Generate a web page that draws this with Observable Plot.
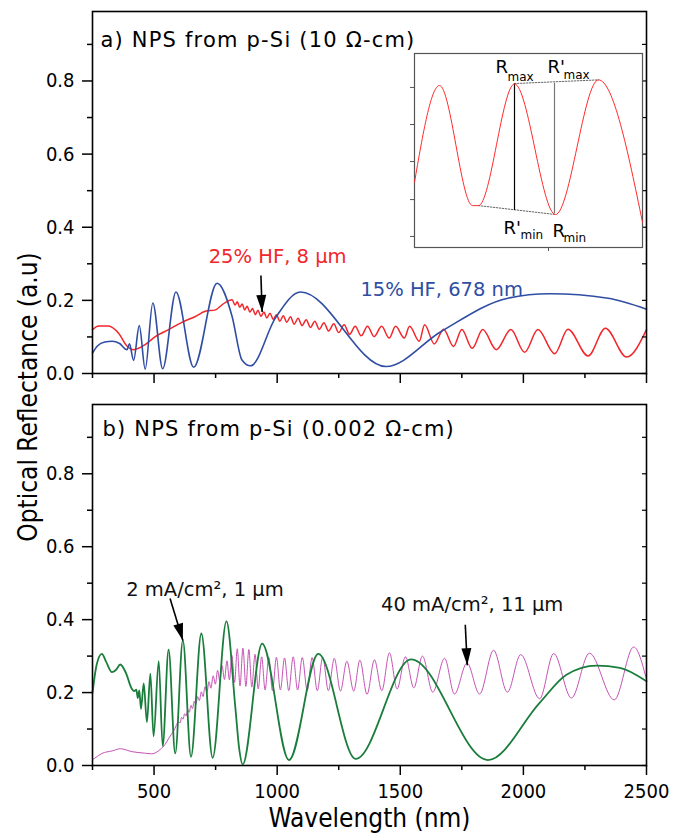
<!DOCTYPE html>
<html><head><meta charset="utf-8">
<script src="https://cdn.jsdelivr.net/npm/d3@7"></script>
<script src="https://cdn.jsdelivr.net/npm/@observablehq/plot@0.6"></script>
<style>
html,body{margin:0;padding:0;background:#fff;}
#wrap{position:relative;width:673px;height:833px;overflow:hidden;}
#ylab{position:absolute;left:28px;top:397px;transform:translate(-50%,-50%) rotate(-90deg);font-family:"DejaVu Sans Condensed","DejaVu Sans";font-stretch:condensed;font-size:26px;font-weight:normal;white-space:nowrap;color:#000;}
</style></head><body><div id="wrap"><div id="ylab">Optical Reflectance (a.u)</div></div>
<script>
// ---------- axes ----------
const xTicksMajor = [500, 1000, 1500, 2000, 2500];
const xTicksMinor = [250, 750, 1250, 1750, 2250];
const yTicksMajor = [0, 0.2, 0.4, 0.6, 0.8];
const yTicksMinor = [0.1, 0.3, 0.5, 0.7, 0.9];
const yTicksRight = [0, 0.1, 0.2, 0.3, 0.4, 0.5, 0.6, 0.7, 0.8, 0.9];
const xLabel = "Wavelength (nm)";
const titleA = "a) NPS from p-Si (10 Ω-cm)";
const titleB = "b) NPS from p-Si (0.002 Ω-cm)";

// ---------- panel a: 15% HF (blue) ----------
const blueX = [250, 270, 300, 330, 360, 390, 400, 417, 440, 464, 495, 535, 589, 661, 756, 817, 857, 892, 993, 1095, 1442, 1666, 1937, 2107, 2344, 2500];
const blueY = [0.056, 0.075, 0.086, 0.088, 0.082, 0.065, 0.081, 0.036, 0.131, 0.012, 0.193, 0.013, 0.223, 0.017, 0.247, 0.156, 0.037, 0.021, 0.152, 0.223, 0.019, 0.115, 0.206, 0.218, 0.206, 0.176];

// ---------- panel a: 25% HF (red) ----------
const redX = [250, 275, 315, 356, 390, 417, 464, 505, 559, 613, 668, 708, 749, 776, 817,
  829, 838, 848, 858, 868, 878, 889, 900, 911, 922, 934, 946, 958, 971, 984, 997, 1011, 1025, 1039, 1054,
  1069, 1085, 1101, 1118, 1135, 1153, 1171, 1190, 1209, 1230, 1250, 1272, 1294, 1317, 1341,
  1367, 1394, 1424, 1455, 1481, 1516, 1538, 1577, 1599, 1638, 1676, 1716, 1750, 1792, 1835, 1890,
  1949, 2005, 2059, 2127, 2181, 2263, 2333, 2419, 2500];
const redY = [0.120, 0.130, 0.130, 0.110, 0.075, 0.065, 0.079, 0.101, 0.120, 0.140, 0.156, 0.170, 0.174, 0.188, 0.202,
  0.187, 0.196, 0.181, 0.190, 0.174, 0.184, 0.168, 0.178, 0.161, 0.173, 0.156, 0.168, 0.152, 0.165, 0.148, 0.161, 0.143, 0.158, 0.140, 0.155,
  0.135, 0.151, 0.131, 0.147, 0.126, 0.143, 0.121, 0.139, 0.116, 0.136, 0.112, 0.133, 0.107, 0.129, 0.103,
  0.129, 0.101, 0.129, 0.097, 0.129, 0.097, 0.129, 0.088, 0.133, 0.081, 0.121, 0.074, 0.120, 0.069, 0.120, 0.065,
  0.120, 0.058, 0.120, 0.054, 0.121, 0.048, 0.124, 0.045, 0.120];

// ---------- panel b: 2 mA/cm2 (green) ----------
const greenX = [250, 267, 288, 305, 329, 345, 363, 385, 410, 420, 428, 434, 440, 447, 458, 471, 485, 498, 519, 535,
  559, 586, 617, 650, 692, 738, 794, 830, 846, 860, 939, 1048, 1167, 1319, 1544, 1856, 2066, 2175, 2297, 2392, 2500];
const greenY = [0.199, 0.277, 0.306, 0.285, 0.256, 0.262, 0.277, 0.255, 0.210, 0.204, 0.208, 0.185, 0.206, 0.155, 0.225, 0.119, 0.252, 0.080, 0.286, 0.053,
  0.318, 0.033, 0.343, 0.024, 0.362, 0.021, 0.395, 0.160, 0.045, 0.003, 0.334, 0.015, 0.306, 0.018, 0.291, 0.015, 0.172, 0.249, 0.274, 0.268, 0.231];

// ---------- panel b: 40 mA/cm2 (magenta) ----------
const magX = [250, 270, 288, 330, 363, 410, 460, 491, 525, 545, 560, 580,
  600, 606, 612, 618, 624, 630, 637, 643, 650, 656, 663, 670, 677, 684, 692, 699, 707, 715, 723, 731,
  740, 749, 758, 767, 776, 786, 796, 806, 816, 827, 838, 849, 861, 873, 885, 897, 910, 923, 937, 951,
  966, 981, 997, 1013, 1030, 1047, 1065, 1083, 1102, 1122, 1142, 1163, 1185, 1208, 1232, 1257,
  1283, 1311, 1336, 1365, 1395, 1425, 1456, 1487, 1521, 1555, 1590, 1632, 1680, 1720, 1771, 1822,
  1879, 1935, 1989, 2066, 2123, 2195, 2268, 2369, 2448, 2500];
const magY = [0.016, 0.025, 0.033, 0.040, 0.046, 0.038, 0.034, 0.032, 0.044, 0.058, 0.075, 0.095,
  0.119, 0.117, 0.132, 0.127, 0.142, 0.136, 0.153, 0.146, 0.165, 0.156, 0.176, 0.167, 0.189, 0.178, 0.202, 0.189, 0.216, 0.201, 0.230, 0.212,
  0.246, 0.223, 0.261, 0.232, 0.274, 0.236, 0.287, 0.235, 0.302, 0.228, 0.320, 0.218, 0.322, 0.217, 0.318, 0.215, 0.305, 0.210, 0.298, 0.207,
  0.296, 0.205, 0.297, 0.207, 0.295, 0.205, 0.298, 0.207, 0.296, 0.206, 0.296, 0.205, 0.297, 0.205, 0.294, 0.204,
  0.286, 0.204, 0.289, 0.195, 0.290, 0.205, 0.309, 0.210, 0.298, 0.213, 0.300, 0.201, 0.294, 0.196, 0.281, 0.196,
  0.316, 0.201, 0.304, 0.183, 0.307, 0.185, 0.308, 0.180, 0.325, 0.236];

// ---------- annotations ----------
const labelsA = ["25% HF, 8 μm", "15% HF, 678 nm"];
const labelsAX = [722, 1338];
const labelsAY = [0.302, 0.211];
const labelsB = ["2 mA/cm², 1 μm", "40 mA/cm², 11 μm"];
const labelsBX = [387, 1422];
const labelsBY = [0.466, 0.425];
// arrows: [tailX, tailY, headX, headY, angle]
const arrowsA = [[934, 0.268, 939, 0.168, 177]];
const arrowsB = [[565, 0.458, 617, 0.343, 164], [1764, 0.386, 1772, 0.275, 177]];

// ---------- inset ----------
const insetX = [0, 25, 58, 64, 100, 141, 184, 228];
const insetY = [0.336, 0.835, 0.216, 0.216, 0.843, 0.170, 0.864, 0.130];
const insetTicksY = [0.057, 0.247, 0.443, 0.634, 0.825];
const insetTicksX = [134];
const insetUpperX = [100, 184], insetUpperY = [0.845, 0.864];
const insetLowerX = [64, 141], insetLowerY = [0.216, 0.170];
const insetRuleX = [100, 140], insetRuleY1 = [0.191, 0.174], insetRuleY2 = [0.843, 0.847];
const insetBig = ["R", "R'", "R'", "R"];
const insetBigX = [81, 133, 89, 138], insetBigY = [0.897, 0.897, 0.072, 0.052];
const insetSub = ["max", "max", "min", "min"];
const insetSubX = [93, 149, 106, 149], insetSubY = [0.856, 0.866, 0.046, 0.027];

const rows = (xs, ys) => xs.map((x, i) => ({x, y: ys[i]}));
const COND = "DejaVu Sans Condensed, DejaVu Sans";
const colors = {blue: "#2f4ea3", red: "#f2262b", green: "#1b7d3c", magenta: "#c553b6"};

const headSymbol = {draw(ctx) { ctx.moveTo(0, 0); ctx.lineTo(5, 17); ctx.lineTo(-5, 17); ctx.closePath(); }};

function arrowMarks(arr) {
  const d = arr.map(a => ({x1: a[0], y1: a[1], x2: a[2], y2: a[3], r: a[4]}));
  return [
    Plot.link(d, {x1: "x1", y1: "y1", x2: "x2", y2: "y2", stroke: "#000", strokeWidth: 1.6}),
    Plot.dot(d, {x: "x2", y: "y2", symbol: headSymbol, rotate: "r", fill: "#000", stroke: "none"})
  ];
}

function axes(showLabels) {
  return [
    Plot.axisY({ticks: yTicksMajor, tickSize: 10, tickPadding: 8, tickFormat: d3.format(".1f"), fontSize: 20, fontWeight: "normal", strokeWidth: 1.5, label: null}),
    Plot.axisY({ticks: yTicksMinor, tickSize: 5, tickFormat: () => "", strokeWidth: 1.5, label: null}),
    Plot.axisY({anchor: "right", ticks: yTicksRight, tickSize: 5, dx: -5, tickFormat: () => "", strokeWidth: 1.2, label: null}),
    Plot.axisX({ticks: xTicksMajor, tickSize: 10, tickPadding: 8, tickFormat: showLabels ? (d => String(d)) : (() => ""), fontSize: 20, fontWeight: "normal", strokeWidth: 1.5, label: null}),
    Plot.axisX({ticks: xTicksMinor, tickSize: 5, tickFormat: () => "", strokeWidth: 1.5, label: null}),
    Plot.frame({stroke: "#000", strokeWidth: 1.6})
  ];
}

const common = {
  width: 673, marginLeft: 92, marginRight: 27,
  x: {domain: [250, 2500]}, y: {domain: [0, 0.99]},
  style: {fontFamily: COND, fontSize: "20px", fontWeight: "normal", background: "transparent", overflow: "visible"}
};

const plotA = Plot.plot({
  ...common, height: 392, marginTop: 11, marginBottom: 19,
  marks: [
    Plot.line(rows(redX, redY), {x: "x", y: "y", stroke: colors.red, strokeWidth: 1.5, curve: "monotone-x"}),
    Plot.line(rows(blueX, blueY), {x: "x", y: "y", stroke: colors.blue, strokeWidth: 1.6, curve: "monotone-x"}),
    ...axes(false),
    Plot.text([titleA], {frameAnchor: "top-left", text: d => d, dx: 8, dy: 35, textAnchor: "start", lineAnchor: "bottom", fontSize: 21, fontFamily: "DejaVu Sans"}),
    Plot.text(labelsA, {x: (d, i) => labelsAX[i], y: (d, i) => labelsAY[i], text: d => d, fill: (d, i) => i === 0 ? colors.red : colors.blue, textAnchor: "start", lineAnchor: "bottom", fontSize: 19.5, fontFamily: "DejaVu Sans"}),
    ...arrowMarks(arrowsA)
  ]
});

const plotB = Plot.plot({
  ...common, height: 441, marginTop: 12, marginBottom: 68,
  marks: [
    Plot.line(rows(magX, magY), {x: "x", y: "y", stroke: colors.magenta, strokeWidth: 1, curve: "monotone-x"}),
    Plot.line(rows(greenX, greenY), {x: "x", y: "y", stroke: colors.green, strokeWidth: 1.8, curve: "monotone-x"}),
    ...axes(true),
    Plot.text([titleB], {frameAnchor: "top-left", text: d => d, dx: 10, dy: 31, textAnchor: "start", lineAnchor: "bottom", fontSize: 21, fontFamily: "DejaVu Sans"}),
    Plot.text([xLabel], {frameAnchor: "bottom", text: d => d, dy: 61, lineAnchor: "bottom", fontSize: 26, fontFamily: COND}),
    Plot.text(labelsB, {x: (d, i) => labelsBX[i], y: (d, i) => labelsBY[i], text: d => d, fill: "#111", textAnchor: "start", lineAnchor: "bottom", fontSize: 19.5, fontFamily: "DejaVu Sans"}),
    ...arrowMarks(arrowsB)
  ]
});

const inset = Plot.plot({
  width: 236, height: 202, marginLeft: 6, marginRight: 2, marginTop: 2, marginBottom: 6,
  x: {domain: [0, 228]}, y: {domain: [0, 1]},
  style: {fontFamily: "DejaVu Sans", background: "transparent", overflow: "visible"},
  marks: [
    Plot.frame({stroke: "#555", strokeWidth: 1.2}),
    Plot.axisY({ticks: insetTicksY, tickSize: 4, tickFormat: () => "", stroke: "#555", label: null}),
    Plot.axisX({ticks: insetTicksX, tickSize: 4, tickFormat: () => "", stroke: "#555", label: null}),
    Plot.line(rows(insetUpperX, insetUpperY), {x: "x", y: "y", stroke: "#666", strokeWidth: 1, strokeDasharray: "1.5,1.5"}),
    Plot.line(rows(insetLowerX, insetLowerY), {x: "x", y: "y", stroke: "#666", strokeWidth: 1, strokeDasharray: "1.5,1.5"}),
    Plot.ruleX(insetRuleX, {x: d => d, y1: (d, i) => insetRuleY1[i], y2: (d, i) => insetRuleY2[i], stroke: (d, i) => i === 0 ? "#000" : "#777", strokeWidth: 1.2}),
    Plot.line(rows(insetX, insetY), {x: "x", y: "y", stroke: "#ff2a2a", strokeWidth: 1, curve: "monotone-x"}),
    Plot.text(insetBig, {x: (d, i) => insetBigX[i], y: (d, i) => insetBigY[i], text: d => d, textAnchor: "start", lineAnchor: "bottom", fontSize: 18, fill: "#000"}),
    Plot.text(insetSub, {x: (d, i) => insetSubX[i], y: (d, i) => insetSubY[i], text: d => d, textAnchor: "start", lineAnchor: "bottom", fontSize: 12, fill: "#000"})
  ]
});

const wrap = document.getElementById("wrap");
function place(el, left, top) { el.style.position = "absolute"; el.style.left = left + "px"; el.style.top = top + "px"; wrap.appendChild(el); }
place(plotA, 0, 0);
place(plotB, 0, 392);
place(inset, 408, 51);
document.querySelectorAll("svg text").forEach(t => {
  if (t.textContent === titleA || t.textContent === titleB) t.setAttribute("letter-spacing", "1.2");
});
wrap.appendChild(document.getElementById("ylab"));
</script>
</body></html>
